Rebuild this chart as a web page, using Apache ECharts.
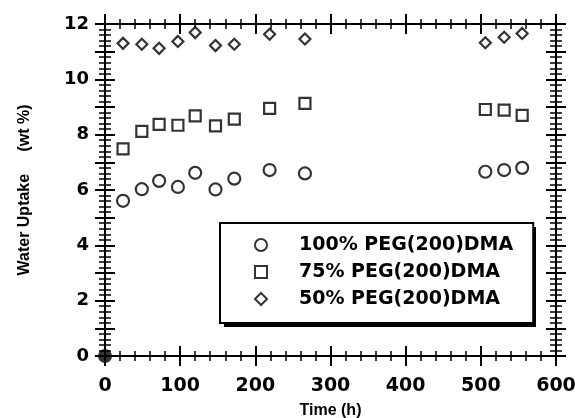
<!DOCTYPE html>
<html>
<head>
<meta charset="utf-8">
<script src="https://cdn.jsdelivr.net/npm/echarts@6/dist/echarts.min.js"></script>
<style>
  html, body { margin: 0; padding: 0; background: #fff; }
  #chart { width: 580px; height: 418px; }
</style>
</head>
<body>
<div id="chart"></div>
<script>
// values
var times = [24, 49, 72, 97, 120, 147, 172, 219, 266, 506, 531, 555];
var peg100 = [5.61, 6.03, 6.33, 6.11, 6.62, 6.02, 6.41, 6.72, 6.60, 6.66, 6.72, 6.80];
var peg75 = [7.49, 8.12, 8.37, 8.34, 8.68, 8.32, 8.56, 8.95, 9.13, 8.91, 8.89, 8.70];
var peg50 = [11.30, 11.27, 11.12, 11.37, 11.69, 11.22, 11.27, 11.63, 11.46, 11.32, 11.52, 11.66];
var startPoint = [[0, 0]];
var seriesNames = ['100% PEG(200)DMA', '75% PEG(200)DMA', '50% PEG(200)DMA'];
var yTickLabels = [0, 2, 4, 6, 8, 10, 12];
var xTickLabels = [0, 100, 200, 300, 400, 500, 600];

function pairs(xs, ys) {
    var out = [];
    for (var i = 0; i < xs.length; i++) {
        out.push([xs[i], ys[i]]);
    }
    return out;
}

// one axis draws ticks outside, a twin on the same line draws them inside,
// so the ticks cross the frame like in the original
function xPart(position, inside, withLabels) {
    return {
        type: 'value',
        position: position,
        min: 0,
        max: 600,
        interval: 100,
        axisLine: { show: true, onZero: false, lineStyle: { color: '#000', width: 2 } },
        axisTick: { show: true, inside: inside, length: 10, lineStyle: { color: '#000', width: 2 } },
        minorTick: { show: true, splitNumber: 5, length: 5, lineStyle: { color: '#000', width: 1.5 } },
        axisLabel: {
            show: withLabels,
            margin: 21,
            fontFamily: 'DejaVu Sans',
            fontWeight: 'bold',
            fontSize: 19,
            color: '#000',
            formatter: function (v) {
                return xTickLabels.indexOf(v) >= 0 ? String(v) : '';
            }
        },
        splitLine: { show: false },
    };
}

function yPart(position, inside, withLabels) {
    return {
        type: 'value',
        position: position,
        min: 0,
        max: 12,
        interval: 1,
        axisLine: { show: true, onZero: false, lineStyle: { color: '#000', width: 2 } },
        axisTick: { show: true, inside: inside, length: 10, lineStyle: { color: '#000', width: 2 } },
        minorTick: { show: true, splitNumber: 5, length: 6, lineStyle: { color: '#000', width: 1.5 } },
        axisLabel: {
            show: withLabels,
            margin: 16,
            fontFamily: 'DejaVu Sans',
            fontWeight: 'bold',
            fontSize: 18,
            color: '#000',
            formatter: function (v) {
                return yTickLabels.indexOf(v) >= 0 ? String(v) : '';
            }
        },
        splitLine: { show: false },
    };
}

var titleFont = { fontFamily: 'Liberation Sans', fontWeight: 'bold', fontSize: 16, color: '#000' };

var xMain = xPart('bottom', false, true);
xMain.name = 'Time (h)';
xMain.nameLocation = 'middle';
xMain.nameGap = 47;
xMain.nameMoveOverlap = false;
xMain.nameTextStyle = titleFont;

var yMain = yPart('left', false, true);
yMain.name = 'Water Uptake     (wt %)';
yMain.nameLocation = 'middle';
yMain.nameGap = 72;
yMain.nameMoveOverlap = false;
yMain.nameTextStyle = titleFont;

var hollow = { color: '#fff', borderColor: '#000', borderWidth: 2.2 };

var dom = document.getElementById('chart');
var chart = echarts.init(dom, null, { renderer: 'canvas' });

var option = {
    animation: false,
    backgroundColor: '#fff',
    grid: {
        left: 105,
        right: 24,
        top: 24,
        bottom: 62,
        containLabel: false,
        outerBoundsMode: 'none',
    },
    // solid drop shadow behind the legend box
    graphic: [{
        type: 'rect',
        z: 0,
        shape: { x: 224, y: 227, width: 312, height: 100 },
        style: { fill: '#000' },
        silent: true,
    }],
    xAxis: [
        xMain,
        xPart('bottom', true, false),
        xPart('top', false, false),
        xPart('top', true, false),
    ],
    yAxis: [
        yMain,
        yPart('left', true, false),
        yPart('right', false, false),
        yPart('right', true, false),
    ],
    legend: {
        orient: 'vertical',
        left: 220,
        top: 223,
        z: 10,
        data: seriesNames,
        selectedMode: false,
        itemWidth: 12,
        itemHeight: 12,
        itemGap: 5,
        padding: [11, 20, 13, 34],
        backgroundColor: '#fff',
        borderColor: '#000',
        borderWidth: 2,
        borderRadius: 0,
        textStyle: {
            fontFamily: 'DejaVu Sans',
            fontWeight: 'bold',
            fontSize: 19,
            lineHeight: 22,
            color: '#000',
            padding: [0, 0, 0, 27],
        },
    },
    series: [
        {
            type: 'scatter',
            name: seriesNames[0],
            symbol: 'circle',
            symbolSize: 12,
            itemStyle: hollow,
            data: pairs(times, peg100),
        },
        {
            type: 'scatter',
            name: seriesNames[1],
            symbol: 'rect',
            symbolSize: 11,
            itemStyle: hollow,
            data: pairs(times, peg75),
        },
        {
            type: 'scatter',
            name: seriesNames[2],
            symbol: 'diamond',
            symbolSize: 11,
            itemStyle: hollow,
            data: pairs(times, peg50),
        },
        {
            type: 'scatter',
            name: 'start',
            symbol: 'circle',
            symbolSize: 14,
            itemStyle: { color: '#000' },
            z: 5,
            data: startPoint,
        },
    ],
};
chart.setOption(option);
window.addEventListener('resize', function () {
    chart.resize();
});
</script>
</body>
</html>
